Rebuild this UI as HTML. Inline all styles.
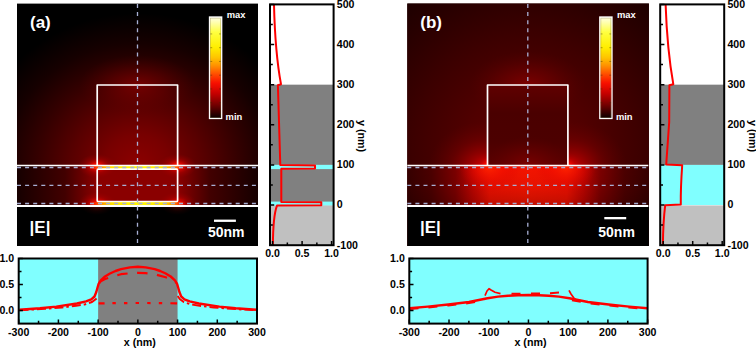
<!DOCTYPE html>
<html lang="en">
<head>
<meta charset="utf-8">
<title>Field distributions |E|</title>
<style>
html,body{margin:0;padding:0;background:#fff;}
body{width:756px;height:349px;overflow:hidden;font-family:"Liberation Sans",sans-serif;}
svg{display:block;}
text{font-family:"Liberation Sans",sans-serif;font-weight:bold;}
</style>
</head>
<body>
<svg width="756" height="349" viewBox="0 0 756 349">
<defs>
<clipPath id="clipA"><rect x="17" y="3.6" width="241" height="242.4"/></clipPath>
<clipPath id="clipAup"><rect x="17" y="3.6" width="241" height="202.4"/></clipPath>
<clipPath id="clipAlow"><rect x="17" y="206" width="241" height="40"/></clipPath>
<clipPath id="clipB"><rect x="407.3" y="3.6" width="241.6" height="242.4"/></clipPath>
<clipPath id="clipBband"><rect x="407.3" y="166" width="241.6" height="40"/></clipPath>
<clipPath id="clipBup"><path d="M407.3 3.6h241.6v162h-81v-80.6h-80.4v80.6h-80.2z"/></clipPath>
<clipPath id="clipBbox"><rect x="487.5" y="85" width="80.4" height="80.6"/></clipPath>
<radialGradient id="glowA">
<stop offset="0" stop-color="#8c0000"/><stop offset="0.2" stop-color="#780000"/><stop offset="0.4" stop-color="#580000"/><stop offset="0.6" stop-color="#360000"/><stop offset="0.8" stop-color="#160000"/><stop offset="1" stop-color="#000000"/>
</radialGradient>
<linearGradient id="bandA" x1="0" y1="0" x2="1" y2="0">
<stop offset="0" stop-color="#160000"/><stop offset="0.2" stop-color="#420000"/><stop offset="0.33" stop-color="#8a0000"/><stop offset="0.67" stop-color="#8a0000"/><stop offset="0.8" stop-color="#420000"/><stop offset="1" stop-color="#160000"/>
</linearGradient>
<radialGradient id="hot">
<stop offset="0" stop-color="#ff2a00"/><stop offset="0.25" stop-color="#f00800" stop-opacity="0.85"/><stop offset="0.6" stop-color="#c00000" stop-opacity="0.35"/><stop offset="1" stop-color="#a00000" stop-opacity="0"/>
</radialGradient>
<linearGradient id="strip" x1="0" y1="0" x2="1" y2="0">
<stop offset="0" stop-color="#ff2000" stop-opacity="0"/><stop offset="0.06" stop-color="#ff3000"/><stop offset="0.12" stop-color="#ff9000"/><stop offset="0.22" stop-color="#ffe000"/><stop offset="0.4" stop-color="#fff400"/><stop offset="0.6" stop-color="#fff400"/><stop offset="0.78" stop-color="#ffe000"/><stop offset="0.88" stop-color="#ff9000"/><stop offset="0.94" stop-color="#ff3000"/><stop offset="1" stop-color="#ff2000" stop-opacity="0"/>
</linearGradient>
<linearGradient id="cbar" x1="0" y1="0" x2="0" y2="1">
<stop offset="0" stop-color="#ffffe8"/><stop offset="0.06" stop-color="#ffffa8"/><stop offset="0.15" stop-color="#ffff40"/><stop offset="0.3" stop-color="#ffee00"/><stop offset="0.4" stop-color="#ffc400"/><stop offset="0.48" stop-color="#ff9000"/><stop offset="0.57" stop-color="#ff4800"/><stop offset="0.65" stop-color="#f81000"/><stop offset="0.75" stop-color="#c80000"/><stop offset="0.85" stop-color="#800000"/><stop offset="0.93" stop-color="#400000"/><stop offset="1" stop-color="#080000"/>
</linearGradient>
<radialGradient id="glowB">
<stop offset="0" stop-color="#600000"/><stop offset="0.3" stop-color="#500000"/><stop offset="0.55" stop-color="#3c0000"/><stop offset="0.8" stop-color="#260000"/><stop offset="1" stop-color="#160000"/>
</radialGradient>
<radialGradient id="topB">
<stop offset="0" stop-color="#980000" stop-opacity="0.85"/><stop offset="0.5" stop-color="#800000" stop-opacity="0.45"/><stop offset="1" stop-color="#600000" stop-opacity="0"/>
</radialGradient>
<radialGradient id="lobeB">
<stop offset="0" stop-color="#e00000" stop-opacity="0.95"/><stop offset="0.25" stop-color="#b80000" stop-opacity="0.7"/><stop offset="0.6" stop-color="#900000" stop-opacity="0.32"/><stop offset="1" stop-color="#700000" stop-opacity="0"/>
</radialGradient>
<linearGradient id="boxB" x1="0" y1="0" x2="0" y2="1">
<stop offset="0" stop-color="#600000"/><stop offset="0.35" stop-color="#4a0000"/><stop offset="0.7" stop-color="#4c0000"/><stop offset="1" stop-color="#5a0000"/>
</linearGradient>
<radialGradient id="boxBglow">
<stop offset="0" stop-color="#800000" stop-opacity="0.9"/><stop offset="0.6" stop-color="#700000" stop-opacity="0.35"/><stop offset="1" stop-color="#600000" stop-opacity="0"/>
</radialGradient>
<linearGradient id="bandB" x1="0" y1="0" x2="1" y2="0">
<stop offset="0" stop-color="#360000"/><stop offset="0.1" stop-color="#4c0000"/><stop offset="0.2" stop-color="#7c0000"/><stop offset="0.27" stop-color="#bc0400"/><stop offset="0.34" stop-color="#ee1000"/><stop offset="0.5" stop-color="#f41400"/><stop offset="0.66" stop-color="#ee1000"/><stop offset="0.73" stop-color="#bc0400"/><stop offset="0.8" stop-color="#7c0000"/><stop offset="0.9" stop-color="#4c0000"/><stop offset="1" stop-color="#360000"/>
</linearGradient>
<radialGradient id="bandBglow">
<stop offset="0" stop-color="#ff2400" stop-opacity="1"/><stop offset="0.45" stop-color="#f81000" stop-opacity="0.55"/><stop offset="1" stop-color="#e00000" stop-opacity="0"/>
</radialGradient>
<linearGradient id="bandBshade" x1="0" y1="0" x2="0" y2="1">
<stop offset="0" stop-color="#000" stop-opacity="0"/><stop offset="0.5" stop-color="#000" stop-opacity="0.05"/><stop offset="1" stop-color="#000" stop-opacity="0.2"/>
</linearGradient>
</defs>
<rect x="0" y="0" width="756" height="349" fill="#fff"/>
<!-- panel a heat map -->
<g>
<rect x="17" y="3.6" width="241" height="242.4" fill="#000"/>
<g clip-path="url(#clipA)">
<ellipse cx="137.5" cy="165" rx="165" ry="152" fill="url(#glowA)"/>
<ellipse cx="137.5" cy="85" rx="58" ry="30" fill="url(#topB)" opacity="0.7"/>
<rect x="17" y="166" width="241" height="40" fill="url(#bandA)"/>
<rect x="97" y="169" width="80.5" height="33" fill="#8a0000"/>
<g clip-path="url(#clipAup)">
<ellipse cx="97" cy="166" rx="19" ry="12" fill="url(#hot)"/>
<ellipse cx="177.5" cy="166" rx="19" ry="12" fill="url(#hot)"/>
<ellipse cx="97" cy="204" rx="19" ry="12" fill="url(#hot)"/>
<ellipse cx="177.5" cy="204" rx="19" ry="12" fill="url(#hot)"/>
</g>
<rect x="17" y="206" width="241" height="40" fill="#000"/>
<ellipse cx="97" cy="206" rx="16" ry="9" fill="url(#hot)" opacity="0.22" clip-path="url(#clipAlow)"/>
<ellipse cx="177.5" cy="206" rx="16" ry="9" fill="url(#hot)" opacity="0.22" clip-path="url(#clipAlow)"/>
<rect x="90" y="166" width="95" height="3" fill="url(#strip)"/>
<rect x="90" y="202" width="95" height="3.5" fill="url(#strip)"/>
</g>
<line x1="17" y1="165.4" x2="258" y2="165.4" stroke="#fff" fill="none" stroke-width="1.5"/>
<line x1="17" y1="206" x2="258" y2="206" stroke="#fff" fill="none" stroke-width="2.2"/>
<path d="M97.2 165.4V85H177.6V165.4" stroke="#fff" fill="none" stroke-width="1.7" stroke-linejoin="round"/>
<rect x="97.2" y="169.2" width="80.4" height="32.3" rx="1" stroke="#fff" fill="none" stroke-width="1.7"/>
<line x1="17" y1="167.5" x2="258" y2="167.5" stroke="#a8b0d4" stroke-width="1.3" stroke-dasharray="4 4.1" fill="none"/>
<line x1="17" y1="185.3" x2="258" y2="185.3" stroke="#a8b0d4" stroke-width="1.3" stroke-dasharray="4 4.1" fill="none"/>
<line x1="17" y1="203.5" x2="258" y2="203.5" stroke="#a8b0d4" stroke-width="1.3" stroke-dasharray="4 4.1" fill="none"/>
<line x1="137.5" y1="4" x2="137.5" y2="246" stroke="#a8b0d4" stroke-width="1.3" stroke-dasharray="4 4.1" fill="none" stroke-dasharray="5.1 4"/>
<rect x="209.5" y="17" width="12.2" height="101.5" fill="url(#cbar)" stroke="#fff" stroke-width="1.3"/>
<rect x="210.6" y="18.1" width="10" height="99.3" fill="none" stroke="#7a6a30" stroke-opacity="0.55" stroke-width="0.5"/>
<path d="M210.4 33.95h1.8M220.8 33.95h-1.8" stroke="#3a2800" stroke-opacity="0.7" stroke-width="0.6"/>
<path d="M210.4 47.7h1.8M220.8 47.7h-1.8" stroke="#3a2800" stroke-opacity="0.7" stroke-width="0.6"/>
<path d="M210.4 61.45h1.8M220.8 61.45h-1.8" stroke="#3a2800" stroke-opacity="0.7" stroke-width="0.6"/>
<path d="M210.4 75.2h1.8M220.8 75.2h-1.8" stroke="#3a2800" stroke-opacity="0.7" stroke-width="0.6"/>
<path d="M210.4 88.95h1.8M220.8 88.95h-1.8" stroke="#3a2800" stroke-opacity="0.7" stroke-width="0.6"/>
<path d="M210.4 102.7h1.8M220.8 102.7h-1.8" stroke="#3a2800" stroke-opacity="0.7" stroke-width="0.6"/>
<text x="226.7" y="18.3" font-size="9.4" fill="#fff" font-family="Liberation Sans, sans-serif" font-weight="bold">max</text>
<text x="225.6" y="119.6" font-size="9.4" fill="#fff" font-family="Liberation Sans, sans-serif" font-weight="bold">min</text>
<rect x="214" y="219.6" width="21.9" height="2.3" fill="#fff"/>
<text x="208" y="237.1" font-size="14" fill="#fff" font-family="Liberation Sans, sans-serif" font-weight="bold">50nm</text>
<text x="30" y="28.4" font-size="17" fill="#fff" font-family="Liberation Sans, sans-serif" font-weight="bold">(a)</text>
<text x="29.6" y="233" font-size="17" fill="#fff" font-family="Liberation Sans, sans-serif" font-weight="bold">|E|</text>
</g>
<!-- panel a side profile -->
<g>
<rect x="270" y="4.4" width="63.6" height="240.8" fill="#fff"/>
<rect x="270" y="84.66" width="63.6" height="80.26" fill="#808080"/>
<rect x="270" y="164.92" width="63.6" height="40.13" fill="#808080"/>
<rect x="270" y="164.9" width="63.6" height="4.2" fill="#80ffff"/>
<rect x="270" y="201.6" width="63.6" height="4.2" fill="#80ffff"/>
<rect x="270" y="205.45" width="63.6" height="39.75" fill="#c0c0c0"/>
<path d="M274 4.4 C274.6 30 276.5 60 281 84.2 L277.9 85.3 L280.3 165 L315 165.4 L315 168.6 L281.3 168.8 L281.3 201.9 L321.3 202.3 L321.3 205.3 L277 205.6 C274.5 212 273 228 272.9 245.2" fill="none" stroke="#ff0000" stroke-width="2" stroke-linejoin="round"/>
<path d="M270 245.18h4.2M270 225.12h2.8M270 205.05h4.2M270 184.99h2.8M270 164.92h4.2M270 144.85h2.8M270 124.79h4.2M270 104.73h2.8M270 84.66h4.2M270 64.59h2.8M270 44.53h4.2M270 24.46h2.8M270 4.4h4.2M272.6 245.2v-4.2M287.35 245.2v-2.8M302.1 245.2v-4.2M316.85 245.2v-2.8M331.6 245.2v-4.2" stroke="#000" stroke-width="1.5" fill="none"/>
<rect x="270" y="4.4" width="63.6" height="240.8" fill="none" stroke="#000" stroke-width="2"/>
<text x="336.8" y="248.58" font-size="10.6" fill="#000" font-family="Liberation Sans, sans-serif" font-weight="bold">-100</text>
<text x="336.8" y="208.45" font-size="10.6" fill="#000" font-family="Liberation Sans, sans-serif" font-weight="bold">0</text>
<text x="336.8" y="168.32" font-size="10.6" fill="#000" font-family="Liberation Sans, sans-serif" font-weight="bold">100</text>
<text x="336.8" y="128.19" font-size="10.6" fill="#000" font-family="Liberation Sans, sans-serif" font-weight="bold">200</text>
<text x="336.8" y="88.06" font-size="10.6" fill="#000" font-family="Liberation Sans, sans-serif" font-weight="bold">300</text>
<text x="336.8" y="47.93" font-size="10.6" fill="#000" font-family="Liberation Sans, sans-serif" font-weight="bold">400</text>
<text x="336.8" y="7.8" font-size="10.6" fill="#000" font-family="Liberation Sans, sans-serif" font-weight="bold">500</text>
<text x="272.6" y="256.8" font-size="10.6" text-anchor="middle" fill="#000" font-family="Liberation Sans, sans-serif" font-weight="bold">0.0</text>
<text x="302.1" y="256.8" font-size="10.6" text-anchor="middle" fill="#000" font-family="Liberation Sans, sans-serif" font-weight="bold">0.5</text>
<text x="331.6" y="256.8" font-size="10.6" text-anchor="middle" fill="#000" font-family="Liberation Sans, sans-serif" font-weight="bold">1.0</text>
<text transform="translate(358 136) rotate(90)" font-size="10.7" text-anchor="middle" fill="#000" font-family="Liberation Sans, sans-serif" font-weight="bold">y (nm)</text>
</g>
<!-- panel a bottom profile -->
<g>
<rect x="18.7" y="258.5" width="238.3" height="65.1" fill="#80ffff"/>
<rect x="98.13" y="258.5" width="79.44" height="65.1" fill="#808080"/>
<path d="M19.5 309.7 L40 308.3 L56.3 306.6 L76.9 303.5 L86 301.3 L91.3 299.3 L94.5 296.5 L96.3 292 L97.4 288 L98.6 283.8 L100.8 280.4 L105 276.5 L110 273.5 L115.5 271 L121 269.1 L130 267.4 L137.85 266.8 L145.7 267.4 L154.7 269.1 L160.2 271 L165.7 273.5 L170.7 276.5 L174.9 280.4 L177.1 283.8 L178.3 288 L179.4 292 L181.2 296.5 L184.4 299.3 L189.7 301.3 L198.8 303.5 L219.4 306.6 L235.7 308.3 L256.2 309.7" fill="none" stroke="#ff0000" stroke-linecap="butt" stroke-linejoin="round" stroke-width="2.4"/>
<path d="M99.2 283 L100.8 281.2 L105 279 L110 277.3 L121 274.2 L130.2 273.2 L137.85 272.8 L145.5 273.2 L154.7 274.2 L165.7 277.3 L170.7 279 L174.9 281.2 L176.5 283" fill="none" stroke="#ff0000" stroke-linecap="butt" stroke-linejoin="round" stroke-width="2.2" stroke-dasharray="10.5 9.5"/>
<path d="M19.5 310.2 L45 308.8 L62 307.4 L76 305.8 L85 304.4 L92 302 L96 299 L98 296" fill="none" stroke="#ff0000" stroke-linecap="butt" stroke-linejoin="round" stroke-width="2" stroke-dasharray="9 3 2.5 3"/>
<path d="M177.7 296 L179.7 299 L183.7 302 L190.7 304.4 L199.7 305.8 L213.7 307.4 L230.7 308.8 L256.2 310.2" fill="none" stroke="#ff0000" stroke-linecap="butt" stroke-linejoin="round" stroke-width="2" stroke-dasharray="9 3 2.5 3"/>
<path d="M98.6 303.4 Q137.85 302.6 177.1 303.4" fill="none" stroke="#ff0000" stroke-linecap="butt" stroke-linejoin="round" stroke-width="2.2" stroke-dasharray="6 7.8 3.4 8.2 3.4 8.2 3.4 8.2 3.4 8.2 3.4 8.2 6 0"/>
<path d="M18.7 258.5h4.2M18.7 271.5h2.8M18.7 284.5h4.2M18.7 297.5h2.8M18.7 310.5h4.2M18.69 323.6v-4.2M38.55 323.6v-2.8M58.41 323.6v-4.2M78.27 323.6v-2.8M98.13 323.6v-4.2M117.99 323.6v-2.8M137.85 323.6v-4.2M157.71 323.6v-2.8M177.57 323.6v-4.2M197.43 323.6v-2.8M217.29 323.6v-4.2M237.15 323.6v-2.8M257.01 323.6v-4.2" stroke="#000" stroke-width="1.5" fill="none"/>
<rect x="18.7" y="258.5" width="238.3" height="65.1" fill="none" stroke="#000" stroke-width="2"/>
<text x="14.2" y="262.3" font-size="10.6" text-anchor="end" fill="#000" font-family="Liberation Sans, sans-serif" font-weight="bold">1.0</text>
<text x="14.2" y="288.3" font-size="10.6" text-anchor="end" fill="#000" font-family="Liberation Sans, sans-serif" font-weight="bold">0.5</text>
<text x="14.2" y="314.3" font-size="10.6" text-anchor="end" fill="#000" font-family="Liberation Sans, sans-serif" font-weight="bold">0.0</text>
<text x="18.69" y="335.9" font-size="10.6" text-anchor="middle" fill="#000" font-family="Liberation Sans, sans-serif" font-weight="bold">-300</text>
<text x="58.41" y="335.9" font-size="10.6" text-anchor="middle" fill="#000" font-family="Liberation Sans, sans-serif" font-weight="bold">-200</text>
<text x="98.13" y="335.9" font-size="10.6" text-anchor="middle" fill="#000" font-family="Liberation Sans, sans-serif" font-weight="bold">-100</text>
<text x="137.85" y="335.9" font-size="10.6" text-anchor="middle" fill="#000" font-family="Liberation Sans, sans-serif" font-weight="bold">0</text>
<text x="177.57" y="335.9" font-size="10.6" text-anchor="middle" fill="#000" font-family="Liberation Sans, sans-serif" font-weight="bold">100</text>
<text x="217.29" y="335.9" font-size="10.6" text-anchor="middle" fill="#000" font-family="Liberation Sans, sans-serif" font-weight="bold">200</text>
<text x="257.01" y="335.9" font-size="10.6" text-anchor="middle" fill="#000" font-family="Liberation Sans, sans-serif" font-weight="bold">300</text>
<text x="139.85" y="346" font-size="10.7" text-anchor="middle" fill="#000" font-family="Liberation Sans, sans-serif" font-weight="bold">x (nm)</text>
</g>
<!-- panel b heat map -->
<g>
<rect x="407.3" y="3.6" width="241.6" height="242.4" fill="#1a0000"/>
<g clip-path="url(#clipB)">
<ellipse cx="527.8" cy="150" rx="210" ry="210" fill="url(#glowB)"/>
<ellipse cx="527.8" cy="85" rx="58" ry="34" fill="url(#topB)" opacity="0.75"/>
<g clip-path="url(#clipBup)">
<ellipse cx="484.5" cy="167" rx="56" ry="46" fill="url(#lobeB)"/>
<ellipse cx="570.9" cy="167" rx="56" ry="46" fill="url(#lobeB)"/>
</g>
<rect x="487.5" y="85" width="80.4" height="80.4" fill="url(#boxB)"/>
<ellipse cx="527.8" cy="166" rx="42" ry="30" fill="url(#boxBglow)" clip-path="url(#clipBbox)"/>
<rect x="407.3" y="166" width="241.6" height="40" fill="url(#bandB)"/>
<g clip-path="url(#clipBband)">
<ellipse cx="489.5" cy="167" rx="30" ry="26" fill="url(#bandBglow)"/>
<ellipse cx="565.9" cy="167" rx="30" ry="26" fill="url(#bandBglow)"/>
<rect x="407.3" y="166" width="241.6" height="40" fill="url(#bandBshade)"/>
</g>
<rect x="407.3" y="206" width="241.6" height="40" fill="#000"/>
<g clip-path="url(#clipBup)">
<circle cx="487.5" cy="165.5" r="13" fill="url(#hot)"/>
<circle cx="567.9" cy="165.5" r="13" fill="url(#hot)"/>
</g>
</g>
<line x1="407.3" y1="165.4" x2="648.3" y2="165.4" stroke="#fff" fill="none" stroke-width="1.5"/>
<line x1="407.3" y1="206" x2="648.3" y2="206" stroke="#fff" fill="none" stroke-width="2.2"/>
<path d="M487.5 165.4V85H567.9V165.4" stroke="#fff" fill="none" stroke-width="1.7" stroke-linejoin="round"/>
<line x1="407.3" y1="167.5" x2="648.3" y2="167.5" stroke="#a8b0d4" stroke-width="1.3" stroke-dasharray="4 4.1" fill="none"/>
<line x1="407.3" y1="185.3" x2="648.3" y2="185.3" stroke="#a8b0d4" stroke-width="1.3" stroke-dasharray="4 4.1" fill="none"/>
<line x1="407.3" y1="203.5" x2="648.3" y2="203.5" stroke="#a8b0d4" stroke-width="1.3" stroke-dasharray="4 4.1" fill="none"/>
<line x1="527.8" y1="4" x2="527.8" y2="246" stroke="#a8b0d4" stroke-width="1.3" stroke-dasharray="4 4.1" fill="none" stroke-dasharray="5.1 4"/>
<rect x="599.8" y="17" width="12.2" height="101.5" fill="url(#cbar)" stroke="#fff" stroke-width="1.3"/>
<rect x="600.9" y="18.1" width="10" height="99.3" fill="none" stroke="#7a6a30" stroke-opacity="0.55" stroke-width="0.5"/>
<path d="M600.7 33.95h1.8M611.1 33.95h-1.8" stroke="#3a2800" stroke-opacity="0.7" stroke-width="0.6"/>
<path d="M600.7 47.7h1.8M611.1 47.7h-1.8" stroke="#3a2800" stroke-opacity="0.7" stroke-width="0.6"/>
<path d="M600.7 61.45h1.8M611.1 61.45h-1.8" stroke="#3a2800" stroke-opacity="0.7" stroke-width="0.6"/>
<path d="M600.7 75.2h1.8M611.1 75.2h-1.8" stroke="#3a2800" stroke-opacity="0.7" stroke-width="0.6"/>
<path d="M600.7 88.95h1.8M611.1 88.95h-1.8" stroke="#3a2800" stroke-opacity="0.7" stroke-width="0.6"/>
<path d="M600.7 102.7h1.8M611.1 102.7h-1.8" stroke="#3a2800" stroke-opacity="0.7" stroke-width="0.6"/>
<text x="617" y="18.3" font-size="9.4" fill="#fff" font-family="Liberation Sans, sans-serif" font-weight="bold">max</text>
<text x="615.9" y="119.6" font-size="9.4" fill="#fff" font-family="Liberation Sans, sans-serif" font-weight="bold">min</text>
<rect x="604.3" y="217.0" width="21.9" height="2.3" fill="#fff"/>
<text x="598.3" y="237.1" font-size="14" fill="#fff" font-family="Liberation Sans, sans-serif" font-weight="bold">50nm</text>
<text x="420.3" y="28.4" font-size="17" fill="#fff" font-family="Liberation Sans, sans-serif" font-weight="bold">(b)</text>
<text x="419.9" y="233" font-size="17" fill="#fff" font-family="Liberation Sans, sans-serif" font-weight="bold">|E|</text>
</g>
<!-- panel b side profile -->
<g>
<rect x="660.2" y="4.4" width="64" height="240.8" fill="#fff"/>
<rect x="660.2" y="84.66" width="64" height="80.26" fill="#808080"/>
<rect x="660.2" y="164.92" width="64" height="40.13" fill="#80ffff"/>
<rect x="660.2" y="205.45" width="64" height="39.75" fill="#c0c0c0"/>
<path d="M665.6 4.4 C666.5 30 669 60 673.3 84.2 L669.4 85.2 L669.2 122 L666.2 164.6 L682.2 165.2 C681.5 175 680.6 190 680.8 204.6 L665.2 205.2 C664 215 663 232 662.9 245.2" fill="none" stroke="#ff0000" stroke-width="2" stroke-linejoin="round"/>
<path d="M660.2 245.18h4.2M660.2 225.12h2.8M660.2 205.05h4.2M660.2 184.99h2.8M660.2 164.92h4.2M660.2 144.85h2.8M660.2 124.79h4.2M660.2 104.73h2.8M660.2 84.66h4.2M660.2 64.59h2.8M660.2 44.53h4.2M660.2 24.46h2.8M660.2 4.4h4.2M663.2 245.2v-4.2M677.95 245.2v-2.8M692.7 245.2v-4.2M707.45 245.2v-2.8M722.2 245.2v-4.2" stroke="#000" stroke-width="1.5" fill="none"/>
<rect x="660.2" y="4.4" width="64" height="240.8" fill="none" stroke="#000" stroke-width="2"/>
<text x="727.4" y="248.58" font-size="10.6" fill="#000" font-family="Liberation Sans, sans-serif" font-weight="bold">-100</text>
<text x="727.4" y="208.45" font-size="10.6" fill="#000" font-family="Liberation Sans, sans-serif" font-weight="bold">0</text>
<text x="727.4" y="168.32" font-size="10.6" fill="#000" font-family="Liberation Sans, sans-serif" font-weight="bold">100</text>
<text x="727.4" y="128.19" font-size="10.6" fill="#000" font-family="Liberation Sans, sans-serif" font-weight="bold">200</text>
<text x="727.4" y="88.06" font-size="10.6" fill="#000" font-family="Liberation Sans, sans-serif" font-weight="bold">300</text>
<text x="727.4" y="47.93" font-size="10.6" fill="#000" font-family="Liberation Sans, sans-serif" font-weight="bold">400</text>
<text x="727.4" y="7.8" font-size="10.6" fill="#000" font-family="Liberation Sans, sans-serif" font-weight="bold">500</text>
<text x="663.2" y="256.8" font-size="10.6" text-anchor="middle" fill="#000" font-family="Liberation Sans, sans-serif" font-weight="bold">0.0</text>
<text x="692.7" y="256.8" font-size="10.6" text-anchor="middle" fill="#000" font-family="Liberation Sans, sans-serif" font-weight="bold">0.5</text>
<text x="722.2" y="256.8" font-size="10.6" text-anchor="middle" fill="#000" font-family="Liberation Sans, sans-serif" font-weight="bold">1.0</text>
<text transform="translate(748.6 136) rotate(90)" font-size="10.7" text-anchor="middle" fill="#000" font-family="Liberation Sans, sans-serif" font-weight="bold">y (nm)</text>
</g>
<!-- panel b bottom profile -->
<g>
<rect x="409.3" y="258.5" width="238.3" height="65.1" fill="#80ffff"/>
<path d="M409.5 308.3 L427.7 306.6 L448.3 304.5 L469 302 L487.5 298.3 L498 296.6 L508 295.7 L518 295.2 L528.45 295 L538.9 295.2 L548.9 295.7 L558.9 296.6 L569.4 298.3 L587.9 302 L608.6 304.5 L629.2 306.6 L647.4 308.3" fill="none" stroke="#ff0000" stroke-linecap="butt" stroke-linejoin="round" stroke-width="2.4"/>
<path d="M409.5 309.2 L427.7 307.6 L448.3 305.6 L469 303.2 L485 300.3" fill="none" stroke="#ff0000" stroke-linecap="butt" stroke-linejoin="round" stroke-width="1.8" stroke-dasharray="9 10"/>
<path d="M571.9 300.3 L587.9 303.2 L608.6 305.6 L629.2 307.6 L647.4 309.2" fill="none" stroke="#ff0000" stroke-linecap="butt" stroke-linejoin="round" stroke-width="1.8" stroke-dasharray="9 10"/>
<path d="M485 295.6 L487 291 L489 288.7 L491 290 L495 292.2 L500.5 293.6" fill="none" stroke="#ff0000" stroke-linecap="butt" stroke-linejoin="round" stroke-width="1.7"/>
<path d="M511.5 293.7h9M531 293.6h9M550 293.3l9 -0.7" fill="none" stroke="#ff0000" stroke-linecap="butt" stroke-linejoin="round" stroke-width="2"/>
<path d="M569 290.4 L571 294 L573.5 297.5 L576 300" fill="none" stroke="#ff0000" stroke-linecap="butt" stroke-linejoin="round" stroke-width="1.7"/>
<path d="M409.3 258.5h4.2M409.3 271.5h2.8M409.3 284.5h4.2M409.3 297.5h2.8M409.3 310.5h4.2M409.29 323.6v-4.2M429.15 323.6v-2.8M449.01 323.6v-4.2M468.87 323.6v-2.8M488.73 323.6v-4.2M508.59 323.6v-2.8M528.45 323.6v-4.2M548.31 323.6v-2.8M568.17 323.6v-4.2M588.03 323.6v-2.8M607.89 323.6v-4.2M627.75 323.6v-2.8M647.61 323.6v-4.2" stroke="#000" stroke-width="1.5" fill="none"/>
<rect x="409.3" y="258.5" width="238.3" height="65.1" fill="none" stroke="#000" stroke-width="2"/>
<text x="404.8" y="262.3" font-size="10.6" text-anchor="end" fill="#000" font-family="Liberation Sans, sans-serif" font-weight="bold">1.0</text>
<text x="404.8" y="288.3" font-size="10.6" text-anchor="end" fill="#000" font-family="Liberation Sans, sans-serif" font-weight="bold">0.5</text>
<text x="404.8" y="314.3" font-size="10.6" text-anchor="end" fill="#000" font-family="Liberation Sans, sans-serif" font-weight="bold">0.0</text>
<text x="409.29" y="335.9" font-size="10.6" text-anchor="middle" fill="#000" font-family="Liberation Sans, sans-serif" font-weight="bold">-300</text>
<text x="449.01" y="335.9" font-size="10.6" text-anchor="middle" fill="#000" font-family="Liberation Sans, sans-serif" font-weight="bold">-200</text>
<text x="488.73" y="335.9" font-size="10.6" text-anchor="middle" fill="#000" font-family="Liberation Sans, sans-serif" font-weight="bold">-100</text>
<text x="528.45" y="335.9" font-size="10.6" text-anchor="middle" fill="#000" font-family="Liberation Sans, sans-serif" font-weight="bold">0</text>
<text x="568.17" y="335.9" font-size="10.6" text-anchor="middle" fill="#000" font-family="Liberation Sans, sans-serif" font-weight="bold">100</text>
<text x="607.89" y="335.9" font-size="10.6" text-anchor="middle" fill="#000" font-family="Liberation Sans, sans-serif" font-weight="bold">200</text>
<text x="647.61" y="335.9" font-size="10.6" text-anchor="middle" fill="#000" font-family="Liberation Sans, sans-serif" font-weight="bold">300</text>
<text x="530.45" y="346" font-size="10.7" text-anchor="middle" fill="#000" font-family="Liberation Sans, sans-serif" font-weight="bold">x (nm)</text>
</g>
</svg>
</body>
</html>
